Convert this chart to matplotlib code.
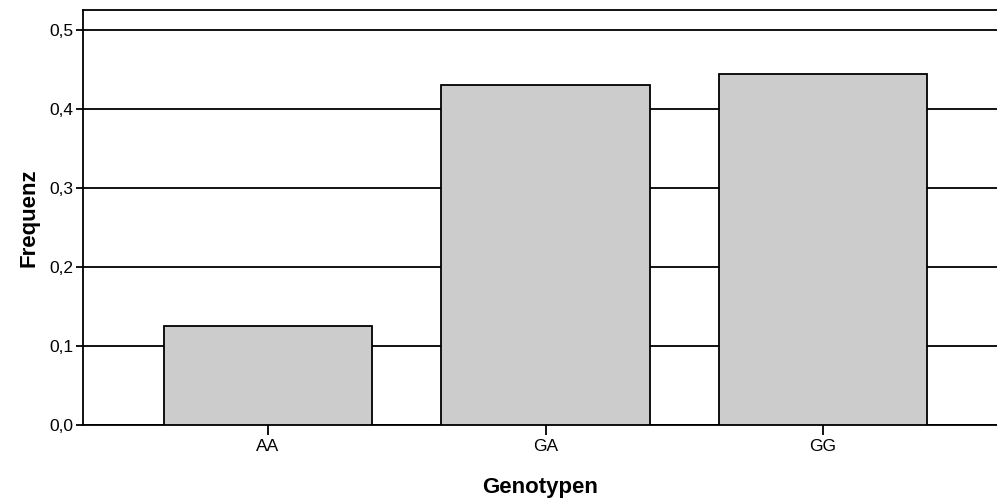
import matplotlib.pyplot as plt

plt.rcParams['font.family'] = ['Liberation Sans', 'DejaVu Sans']

genotypes = ['AA', 'GA', 'GG']
freq = [0.125, 0.430, 0.444]
yticks = [0.0, 0.1, 0.2, 0.3, 0.4, 0.5]
ytick_labels = ['0,0', '0,1', '0,2', '0,3', '0,4', '0,5']

fig = plt.figure(figsize=(9.97, 5.0), dpi=100)
ax = fig.add_axes([83 / 997, 75 / 500, 914 / 997, 415 / 500])

pos = list(range(len(genotypes)))
ax.bar(pos, freq, width=0.75, color='#cccccc', edgecolor='black', linewidth=1.3, zorder=3)

ax.set_yticks(yticks)
ax.set_yticklabels(ytick_labels)
ax.set_xticks(pos)
ax.set_xticklabels(genotypes)
ax.set_ylim(0, 0.525)
ax.set_xlim(-0.667, 2.627)

ax.yaxis.grid(True, color='black', linewidth=1.3, zorder=0)
ax.set_axisbelow(True)
ax.tick_params(axis='y', length=5, width=1.3, labelsize=12.5, colors='black', pad=2)
ax.tick_params(axis='x', length=7, width=1.3, labelsize=12.5, colors='black', pad=3)
for s in ['left', 'bottom', 'top']:
    ax.spines[s].set_linewidth(1.3)
ax.spines['right'].set_visible(False)

ax.set_xlabel('Genotypen', fontsize=16, fontweight='bold', labelpad=17)
ax.set_ylabel('Frequenz', fontsize=16, fontweight='bold', labelpad=7)

fig.savefig('out.png', dpi=100)
